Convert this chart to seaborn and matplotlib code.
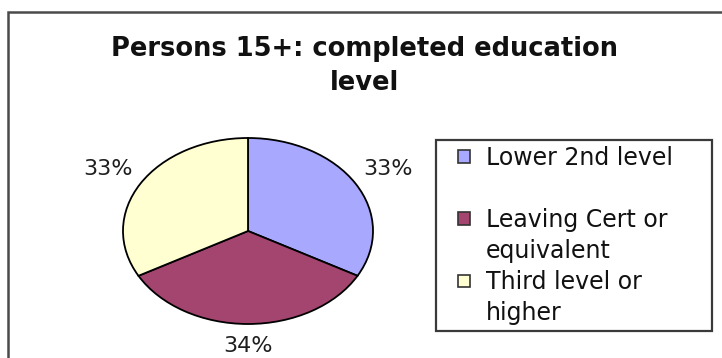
import matplotlib
matplotlib.use("Agg")
import matplotlib.pyplot as plt
from matplotlib.patches import Rectangle, Patch
from matplotlib.legend_handler import HandlerPatch
import seaborn as sns

# Completed education level, persons aged 15 and over (%)
categories = ["Lower 2nd level", "Leaving Cert or equivalent", "Third level or higher"]
shares = [33, 34, 33]
slice_colors = ["#a8a8ff", "#a3456f", "#ffffd2"]

# Legend text rows, each tied to the category it belongs to (None = continuation row)
legend_rows = [
    ("Lower 2nd level", 0),
    ("", None),
    ("Leaving Cert or", 1),
    ("equivalent", None),
    ("Third level or", 2),
    ("higher", None),
]

title_text = "Persons 15+: completed education\nlevel"

sns.set_theme(style="white")
plt.rcParams["font.family"] = ["DejaVu Sans"]

W, H = 722, 358
fig = plt.figure(figsize=(W / 100, H / 100), dpi=100)
fig.patch.set_facecolor("white")

# Outer chart frame (open to the right and bottom edges of the image)
fig.patches.append(Rectangle((8 / W, -0.1), 1.2, 1 - 12 / H + 0.1,
                             transform=fig.transFigure, fill=False,
                             edgecolor="#4a4a4a", linewidth=1.8, zorder=0))

# Pie drawn in an axes whose aspect stretches it into an ellipse
cx, cy, rx, ry = 248, 231, 125, 93
ax = fig.add_axes([(cx - 1.25 * rx) / W, (H - cy - 1.25 * ry) / H,
                   2.5 * rx / W, 2.5 * ry / H])
palette = sns.color_palette(slice_colors)
wedges, _, pct_texts = ax.pie(
    shares, colors=palette, startangle=90, counterclock=False,
    autopct="%.0f%%", pctdistance=1.3,
    wedgeprops=dict(edgecolor="black", linewidth=1.3),
    textprops=dict(fontsize=16, color="#1e1e1e"),
)
ax.set_aspect("auto")
ax.set_xlim(-1.25, 1.25)
ax.set_ylim(-1.25, 1.25)
ax.axis("off")
# keep the bottom label inside the image
pct_texts[1].set_y(-1.235)

fig.text(365 / W, 1 - 66 / H, title_text, ha="center", va="center",
         fontsize=18.5, fontweight="bold", color="#111111", linespacing=1.45)


class SquareKey(HandlerPatch):
    """Small square key sitting at the right end of the handle box."""

    def create_artists(self, legend, orig_handle, xdescent, ydescent,
                       width, height, fontsize, trans):
        side = 12.5 * 72 / 100
        p = Rectangle((width - xdescent - side, -ydescent + (height - side) / 2),
                      side, side)
        self.update_prop(p, orig_handle, legend)
        p.set_transform(trans)
        return [p]


# Legend
handles = []
for _, idx in legend_rows:
    if idx is None:
        handles.append(Patch(facecolor="none", edgecolor="none"))
    else:
        handles.append(Patch(facecolor=palette[idx], edgecolor="#333333", linewidth=1.2))
labels = [t for t, _ in legend_rows]
leg = fig.legend(handles, labels, loc="upper left",
                 bbox_to_anchor=(436 / W, 1 - 140 / H, 276 / W, 0),
                 bbox_transform=fig.transFigure, mode="expand",
                 fontsize=17, frameon=True, fancybox=False, framealpha=1,
                 edgecolor="#3a3a3a", borderpad=0.25, labelspacing=0.3,
                 handlelength=1.2, handleheight=0.6, handletextpad=0.65,
                 borderaxespad=0, handler_map={Patch: SquareKey()})
leg.get_frame().set_linewidth(1.6)
for t in leg.get_texts():
    t.set_color("#111111")

fig.savefig("out.png", dpi=100)
